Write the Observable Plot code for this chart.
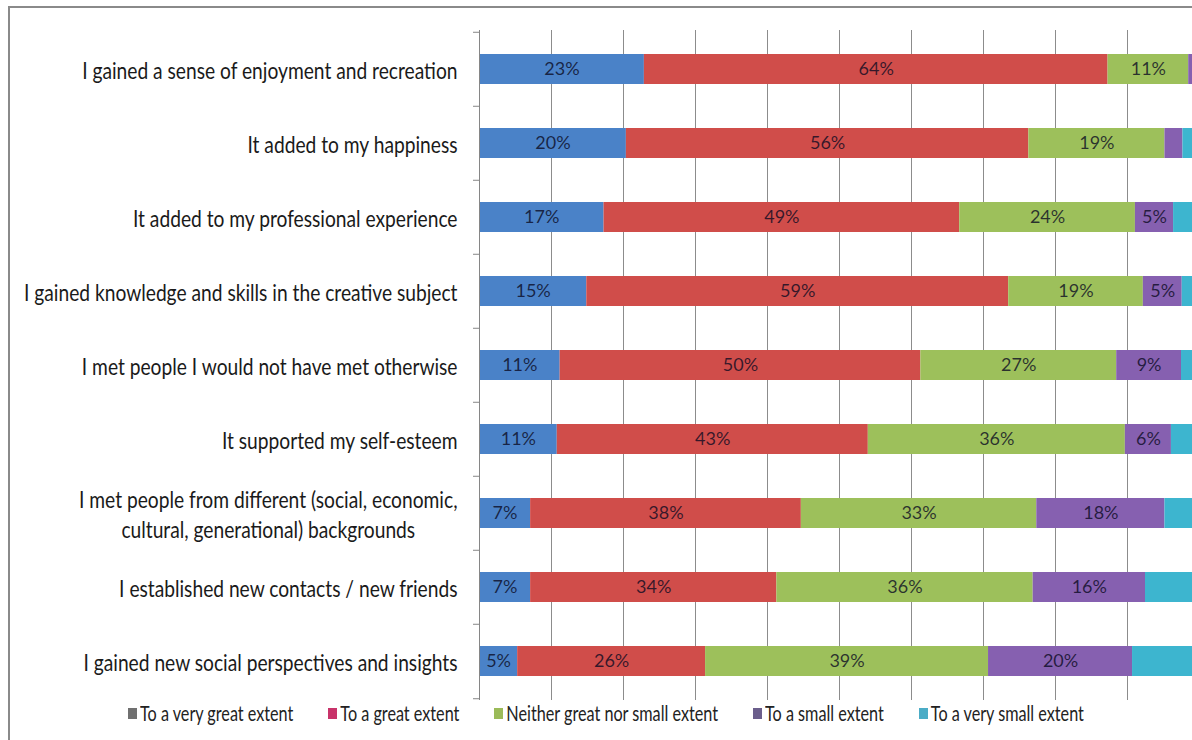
<!DOCTYPE html>
<html>
<head>
<meta charset="utf-8">
<script src="https://cdn.jsdelivr.net/npm/d3@7"></script>
<script src="https://cdn.jsdelivr.net/npm/@observablehq/plot@0.6"></script>
<style>
  html, body { margin: 0; padding: 0; background: #fff; overflow: hidden; }
  body { width: 1192px; height: 740px; position: relative; font-family: Lato, "Noto Sans", sans-serif; }
  #chart svg { display: block; max-width: none !important; width: 1200px; height: 705px; }
  #frame { position: absolute; left: 8px; top: 6px; width: 1400px; height: 900px;
           border-top: 2px solid #8a8a8a; border-left: 2px solid #8a8a8a; pointer-events: none; }
  #legend { position: absolute; left: 128px; top: 703px; display: flex; gap: 35px;
            font-size: 16.2px; color: #222; white-space: nowrap; line-height: 20px; }
  .item { display: flex; align-items: center; }
  .sw { width: 9px; height: 11px; margin-right: 3px; }
  .item span { display: inline-block; transform: scaleY(1.25); }
</style>
</head>
<body>
<div id="chart"></div>
<div id="legend"></div>
<div id="frame"></div>
<script>
const FONT = 'Lato, "Noto Sans", sans-serif';

const categories = [
  "I gained a sense of enjoyment and recreation",
  "It added to my happiness",
  "It added to my professional experience",
  "I gained knowledge and skills in the creative subject",
  "I met people I would not have met otherwise",
  "It supported my self-esteem",
  "I met people from different (social, economic,\ncultural, generational) backgrounds",
  "I established new contacts / new friends",
  "I gained new social perspectives and insights"
];
const seriesNames = [
  "To a very great extent",
  "To a great extent",
  "Neither great nor small extent",
  "To a small extent",
  "To a very small extent"
];
const veryGreat = [22.9, 20.4, 17.3, 14.9, 11.2, 10.8, 7.1, 7.1, 5.3];
const great     = [64.4, 55.9, 49.4, 58.6, 50.1, 43.2, 37.6, 34.2, 26.1];
const neither   = [11.2, 18.9, 24.4, 18.7, 27.2, 35.7, 32.7, 35.6, 39.3];
const small     = [1.0, 2.5, 5.3, 5.4, 9.0, 6.4, 17.8, 15.6, 20.0];
const verySmall = [0.5, 2.3, 3.6, 2.4, 2.5, 3.9, 4.8, 7.5, 9.3];
const seriesValues = [veryGreat, great, neither, small, verySmall];
const labelledSeries = [true, true, true, true, false];

const barColors = ["#4a82c8", "#d04d4a", "#9dc05b", "#8660b0", "#3db5cf"];
const legendColors = ["#707070", "#c8336a", "#9bbb59", "#6b5e8c", "#4bacc6"];

const table = categories.flatMap((c, i) =>
  seriesNames.map((s, j) => ({
    category: c,
    series: s,
    value: seriesValues[j][i],
    show: labelledSeries[j] && seriesValues[j][i] >= 4.5
  }))
);

const W = 1200, H = 705, mt = 30, mb = 5, ml = 479, mr = 1;
const pIn = 0.6, pOut = 0.3;
const step = (H - mt - mb) / (categories.length - pIn + 2 * pOut);
const STRETCH = 1.25;      // text in the reference is tall and narrow
const AXIS_FS = 19.2;

const plot = Plot.plot({
  width: W, height: H,
  marginTop: mt, marginBottom: mb, marginLeft: ml, marginRight: mr,
  style: { fontFamily: FONT, background: "transparent", color: "#1a1a1a" },
  x: { domain: [0, 100], axis: null },
  y: { domain: categories, paddingInner: pIn, paddingOuter: pOut },
  color: { domain: seriesNames, range: barColors },
  marks: [
    Plot.gridX({ ticks: 10, stroke: "#8c8c8c", strokeOpacity: 1 }),
    Plot.barX(table, Plot.stackX({ y: "category", x: "value", fill: "series" })),
    Plot.text(table, Plot.stackX({
      y: "category", x: "value", z: "series",
      text: d => d.show ? Math.round(d.value) + "%" : "",
      fill: "#0a0a22", fillOpacity: 0.78, fontSize: 18, ariaLabel: "bar-label"
    })),
    Plot.ruleX([0], { stroke: "#868686" }),
    Plot.axisY({ tickSize: 0, tickPadding: 22, fontSize: AXIS_FS, lineHeight: 30 / (AXIS_FS * STRETCH),
                 fill: "#1a1a1a", label: null }),
    Plot.axisY({ tickSize: 6, text: null, label: null, dy: -step / 2, stroke: "#868686" }),
    Plot.axisY([categories[categories.length - 1]], { tickSize: 6, text: null, label: null, dy: step / 2, stroke: "#868686" })
  ]
});

document.getElementById("chart").append(plot);

function stretch(t, sy) {
  const tr = t.getAttribute("transform");
  if (tr) {
    t.setAttribute("transform", tr + ` scale(1,${sy})`);
  } else {
    const x = +(t.getAttribute("x") || 0), y = +(t.getAttribute("y") || 0);
    t.removeAttribute("x"); t.removeAttribute("y");
    t.setAttribute("transform", `translate(${x},${y}) scale(1,${sy})`);
  }
}

// Center the lines of multi-line category labels (block stays right-aligned)
plot.querySelectorAll('g[aria-label="y-axis tick label"] text').forEach(t => {
  if (t.querySelectorAll("tspan").length > 1) {
    const w = t.getBBox().width;
    t.setAttribute("text-anchor", "middle");
    const tr = t.getAttribute("transform") || "";
    t.setAttribute("transform", tr + ` translate(${-w / 2},0)`);
  }
  stretch(t, STRETCH);
});
plot.querySelectorAll('g[aria-label="bar-label"] text').forEach(t => stretch(t, 1.2));

const legend = d3.select("#legend");
seriesNames.forEach((s, i) => {
  const it = legend.append("div").attr("class", "item");
  it.append("div").attr("class", "sw").style("background", legendColors[i]);
  it.append("span").text(s);
});
</script>
</body>
</html>
